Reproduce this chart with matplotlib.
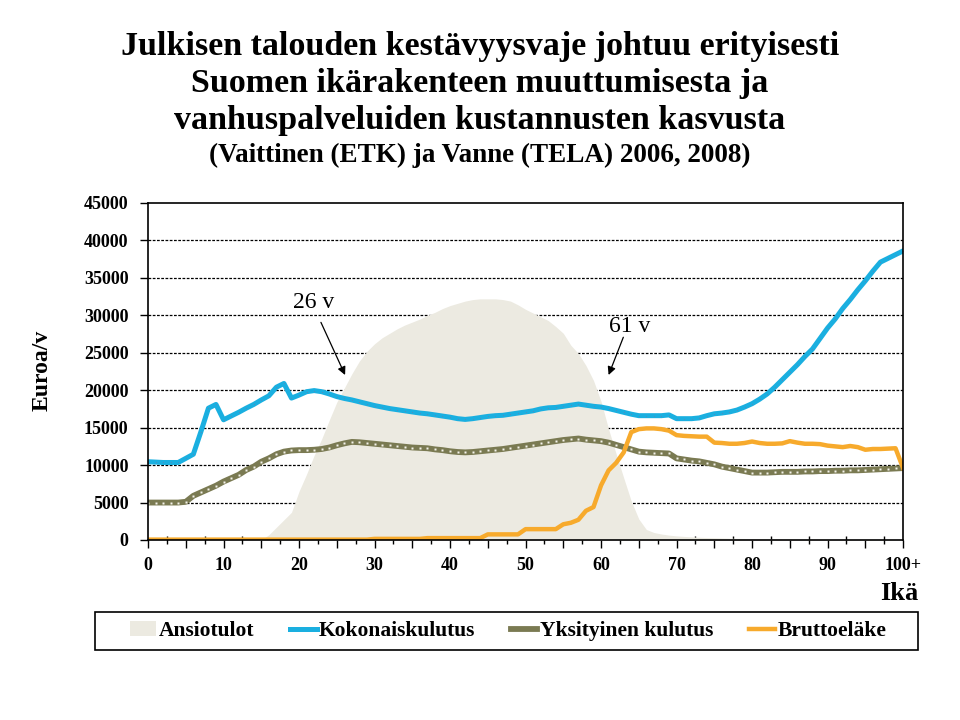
import matplotlib
matplotlib.use("Agg")
import matplotlib.pyplot as plt
from matplotlib.patches import Rectangle
from matplotlib.lines import Line2D
from matplotlib.patches import Patch

plt.rcParams['font.family'] = ['Liberation Serif', 'DejaVu Serif']

ages = list(range(101))
tick_labels = ["0", "10", "20", "30", "40", "50", "60", "70", "80", "90", "100+"]

ansiotulot = [0]*16 + [
    700, 1700, 2700, 3700, 6500, 8800, 11300, 13500, 16000, 18400,          # 16-25
    20300, 22200, 23900, 25200, 26200, 27000, 27600, 28200, 28700, 29100,   # 26-35
    29500, 30000, 30400, 30900, 31300, 31600, 31900, 32100, 32200, 32200,   # 36-45
    32200, 32100, 31900, 31400, 30800, 30300, 29800, 29300, 28500, 27600,   # 46-55
    26000, 24900, 23300, 21300, 18500, 14800, 11500, 8300, 5200, 2800,      # 56-65
    1400, 1000, 800, 650, 550, 480, 420, 370, 330, 300,                     # 66-75
    270, 240, 220, 200, 180, 165, 150, 140, 130, 120,                       # 76-85
    110, 100, 95, 90, 85, 80, 75, 70, 65, 60,                               # 86-95
    55, 50, 50, 50, 50]                                                     # 96-100

kokonaiskulutus = [
    10450, 10400, 10350, 10350, 10350, 10900, 11450, 14450, 17600, 18100,   # 0-9
    16050, 16550, 17050, 17600, 18100, 18700, 19250, 20400, 20900, 18950,   # 10-19
    19350, 19800, 19950, 19800, 19500, 19150, 18900, 18700, 18450, 18200,   # 20-29
    17950, 17750, 17550, 17400, 17250, 17100, 16950, 16850, 16700, 16550,   # 30-39
    16400, 16200, 16100, 16200, 16350, 16500, 16600, 16650, 16800, 16950,   # 40-49
    17100, 17250, 17500, 17650, 17700, 17850, 18000, 18150, 18000, 17850,   # 50-59
    17750, 17550, 17300, 17050, 16800, 16600, 16600, 16600, 16600, 16700,   # 60-69
    16200, 16200, 16200, 16300, 16600, 16850, 16950, 17100, 17350, 17750,   # 70-79
    18200, 18800, 19500, 20400, 21400, 22400, 23400, 24500, 25500, 26900,   # 80-89
    28300, 29500, 30900, 32100, 33400, 34600, 35900, 37100, 37600, 38100,   # 90-99
    38600]

yksityinen_kulutus = [
    5000, 5000, 5000, 5000, 5000, 5100, 5900, 6350, 6800, 7250,             # 0-9
    7800, 8250, 8700, 9350, 9800, 10450, 10900, 11450, 11800, 11950,        # 10-19
    12000, 12000, 12050, 12150, 12350, 12650, 12900, 13100, 13050, 12950,   # 20-29
    12850, 12750, 12650, 12550, 12450, 12350, 12300, 12250, 12100, 12000,   # 30-39
    11850, 11750, 11700, 11750, 11850, 11950, 12050, 12150, 12300, 12450,   # 40-49
    12600, 12750, 12900, 13050, 13200, 13350, 13450, 13550, 13400, 13300,   # 50-59
    13200, 13000, 12700, 12400, 12100, 11800, 11700, 11650, 11600, 11550,   # 60-69
    10900, 10750, 10600, 10500, 10300, 10100, 9800, 9600, 9400, 9200,       # 70-79
    9000, 9000, 9000, 9050, 9100, 9100, 9100, 9150, 9150, 9200,             # 80-89
    9200, 9250, 9250, 9300, 9300, 9350, 9400, 9450, 9500, 9550,             # 90-99
    9600]

bruttoelake = [50]*30 + [150]*7 + [250]*8 + [750]*5 + [1450]*5 + [
    2100, 2300, 2700, 3900, 4400,                                           # 55-59
    7300, 9300, 10300, 11700, 14400, 14800, 14900, 14900, 14800, 14600,     # 60-69
    14000, 13900, 13850, 13800, 13800, 13000, 12950, 12850, 12850, 12950,   # 70-79
    13150, 12950, 12850, 12850, 12900, 13200, 13000, 12850, 12850, 12800,   # 80-89
    12600, 12500, 12400, 12550, 12400, 12050, 12150, 12150, 12200, 12250,   # 90-99
    9600]

C_AREA = '#ECEAE1'
C_BLUE = '#1AAFE0'
C_OLIVE = '#7A7A52'
C_ORANGE = '#F7AA2C'

fig = plt.figure(figsize=(9.6, 7.2), dpi=100)
ax = fig.add_axes([0.1542, 0.25, 0.7865, 0.4681])

ax.fill_between(ages, 0, ansiotulot, color=C_AREA, lw=0, zorder=2)
ax.plot(ages, kokonaiskulutus, color=C_BLUE, lw=3.6, zorder=3, solid_joinstyle='round')
ax.plot(ages, kokonaiskulutus, ls='none', marker='.', ms=1.0, mfc='#D8406A',
        mec='none', alpha=0.8, zorder=3.1)
ax.plot(ages, yksityinen_kulutus, color=C_OLIVE, lw=4.2, zorder=4,
        marker='s', ms=1.5, mfc='#F4F2EA', mec='none', solid_joinstyle='round')
ax.plot(ages, bruttoelake, color=C_ORANGE, lw=3.2, zorder=5, solid_joinstyle='round')

ax.set_xlim(0, 100)
ax.set_ylim(0, 45000)
ax.set_yticks(range(0, 45001, 5000))
ax.set_yticklabels([str(v) for v in range(0, 45001, 5000)])
ax.set_xticks(range(0, 101, 5))
xl = []
for v in range(0, 101, 5):
    if v % 10 == 0:
        xl.append(tick_labels[v // 10])
    else:
        xl.append('')
ax.set_xticklabels(xl)
ax.set_xticks([v + 2.5 for v in range(0, 100, 5)], minor=True)

for y in range(5000, 40001, 5000):
    ax.axhline(y, color='black', lw=0.9, ls=(0, (2.2, 1.2)), zorder=1)

for lab in ax.get_xticklabels() + ax.get_yticklabels():
    lab.set_fontweight('bold')
    lab.set_fontsize(13)
ax.tick_params(axis='both', which='major', direction='out', length=6, width=1, color='black', pad=6)
ax.tick_params(axis='x', which='minor', direction='inout', length=6, width=1)
ax.tick_params(axis='y', which='major', pad=8)
for s in ax.spines.values():
    s.set_linewidth(1.2)
    s.set_color('black')
    s.set_zorder(6)

# annotations
ax.text(21.9, 31700, '26 v', fontsize=17, ha='center', va='center', zorder=7)
ax.annotate('', xy=(26.1, 22030), xytext=(22.9, 29060), zorder=7,
            arrowprops=dict(arrowstyle='-|>', color='black', lw=0.9,
                            mutation_scale=12, shrinkA=0, shrinkB=0))
ax.text(63.8, 28500, '61 v', fontsize=17, ha='center', va='center', zorder=7)
ax.annotate('', xy=(61.0, 22030), xytext=(62.95, 27070), zorder=7,
            arrowprops=dict(arrowstyle='-|>', color='black', lw=0.9,
                            mutation_scale=12, shrinkA=0, shrinkB=0))

fig.text(0.044, 0.486, 'Euroa/v', rotation=90, ha='center', va='center',
         fontsize=17, fontweight='bold')
fig.text(0.957, 0.176, 'Ikä', ha='right', va='center', fontsize=19, fontweight='bold')

# title
title_lines = ["Julkisen talouden kestävyysvaje johtuu erityisesti",
               "Suomen ikärakenteen muuttumisesta ja",
               "vanhuspalveluiden kustannusten kasvusta"]
for i, t in enumerate(title_lines):
    fig.text(0.5, 1 - (47 + 36.5 * i) / 720, t, ha='center', va='center',
             fontsize=24.5, fontweight='bold')
fig.text(0.5, 1 - 155 / 720, "(Vaittinen (ETK) ja Vanne (TELA) 2006, 2008)",
         ha='center', va='center', fontsize=19.5, fontweight='bold')

# legend box
fig.add_artist(Rectangle((95 / 960, 1 - 650 / 720), 823 / 960, 38 / 720,
                         transform=fig.transFigure, fill=False, ec='black', lw=1.2))
handles = [Patch(facecolor=C_AREA, edgecolor='none'),
           Line2D([], [], color=C_BLUE, lw=3.6),
           Line2D([], [], color=C_OLIVE, lw=4.2),
           Line2D([], [], color=C_ORANGE, lw=3.2)]
labels = ['Ansiotulot', 'Kokonaiskulutus', 'Yksityinen kulutus', 'Bruttoeläke']
leg = fig.legend(handles, labels, loc='center', bbox_to_anchor=(508 / 960, 1 - 631 / 720),
                 ncol=4, frameon=False, handlelength=1.25, handletextpad=0.1,
                 columnspacing=1.65, prop={'weight': 'bold', 'size': 15.5})

fig.savefig('out.png', dpi=100)
